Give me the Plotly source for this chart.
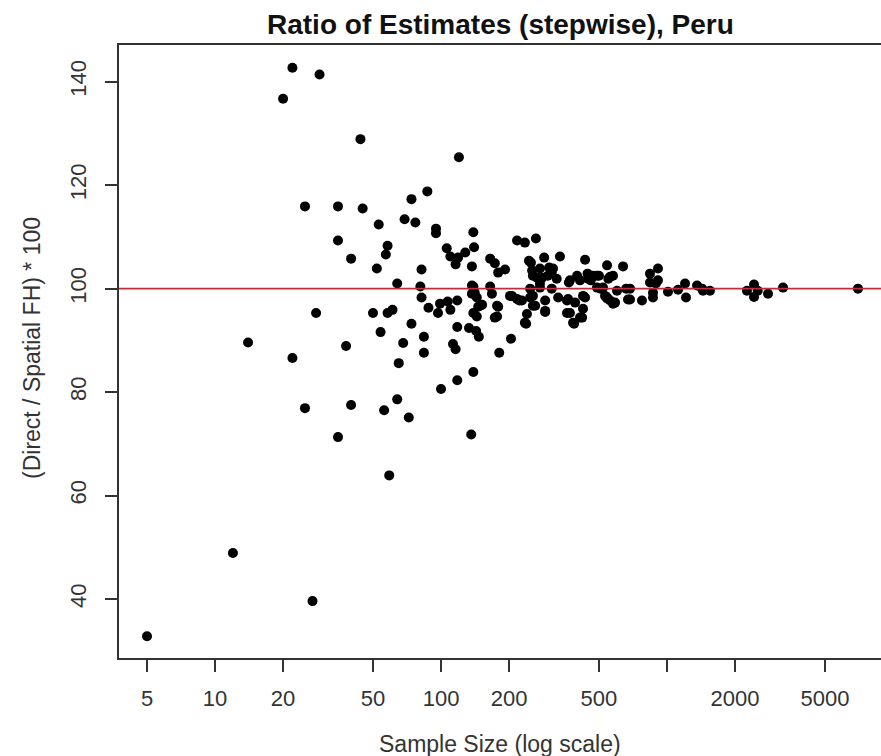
import plotly.graph_objects as go

sample_size = [
    5, 12, 14, 20, 22, 29, 22, 25, 28, 25, 27, 35, 45, 44, 53, 35, 58, 57, 40, 52,
    40, 35, 59, 38, 50, 58, 61, 54, 56, 64, 65, 64, 120, 87, 74, 69, 77, 95, 95, 139,
    106, 110, 128, 119, 116, 140, 137, 82, 165, 173, 179, 192, 217, 235, 263, 81, 82, 88, 99, 97,
    107, 118, 110, 139, 141, 144, 139, 146, 144, 152, 165, 168, 179, 177, 206, 217, 228, 248, 261, 240,
    238, 289, 250, 253, 266, 274, 286, 313, 297, 336, 372, 365, 361, 388, 421, 400, 434, 447, 425, 471,
    543, 560, 589, 639, 672, 601, 74, 68, 84, 84, 118, 133, 143, 147, 113, 116, 181, 204, 139, 118,
    100, 72, 136, 912, 841, 912, 841, 521, 543, 577, 686, 686, 775, 867, 867, 1010, 1119, 1202, 1214, 1358,
    1443, 1549, 2259, 2427, 2427, 2520, 2799, 3262, 7000, 500, 577, 460, 490, 532, 560, 893, 1430, 660, 508, 550,
    245, 274, 301, 255, 280, 309, 325, 445, 490, 368, 412, 248, 274, 309, 202, 222, 255, 289, 330, 361,
    392, 434, 543, 177, 255, 173, 289, 372, 425, 235, 384, 412, 137, 137, 149,
]
ratio = [
    32.8, 48.9, 89.6, 136.7, 142.7, 141.4, 86.6, 115.9, 95.3, 76.9, 39.6, 115.9, 115.5, 128.9, 112.4, 109.3, 108.3, 106.6, 105.8, 103.9,
    77.5, 71.3, 63.9, 88.9, 95.3, 95.3, 95.9, 91.6, 76.5, 78.6, 85.6, 101.0, 125.4, 118.8, 117.3, 113.4, 112.8, 111.6, 110.7, 110.9,
    107.8, 106.2, 107.0, 106.0, 104.7, 108.0, 104.3, 103.7, 105.8, 104.9, 103.1, 103.7, 109.3, 108.9, 109.7, 100.4, 98.3, 96.3, 97.1, 95.3,
    97.5, 97.7, 95.9, 100.4, 99.2, 98.3, 95.3, 96.5, 94.6, 96.9, 100.4, 99.0, 96.5, 94.6, 98.6, 98.0, 97.7, 98.3, 96.7, 95.1,
    93.2, 95.5, 105.0, 103.5, 102.1, 101.0, 106.0, 103.9, 102.5, 106.2, 101.6, 98.0, 95.3, 93.2, 94.4, 102.5, 105.6, 101.9, 98.6, 102.5,
    104.5, 102.3, 97.3, 104.3, 97.9, 99.6, 93.2, 89.5, 90.7, 87.6, 92.6, 92.4, 91.8, 90.7, 89.3, 88.3, 87.6, 90.3, 83.9, 82.3,
    80.6, 75.1, 71.8, 103.9, 102.9, 101.6, 101.2, 100.2, 98.3, 97.1, 100.0, 97.9, 97.7, 99.2, 98.3, 99.4, 99.8, 101.0, 98.3, 100.6,
    99.6, 99.6, 99.6, 100.8, 98.4, 99.6, 99.0, 100.2, 100.0, 102.5, 102.5, 101.6, 100.2, 98.6, 97.7, 101.0, 100.0, 100.0, 100.0, 101.9,
    105.4, 103.9, 104.1, 102.5, 102.1, 103.1, 101.9, 102.9, 102.5, 101.2, 101.6, 100.0, 100.2, 100.0, 98.6, 97.7, 98.6, 97.7, 98.3, 97.7,
    97.3, 98.3, 98.1, 96.7, 96.7, 94.4, 95.7, 95.3, 96.1, 93.4, 93.4, 94.4, 100.6, 99.0, 96.7,
]

x_tick_vals = [5, 10, 20, 50, 100, 200, 500, 1000, 2000, 5000]
x_tick_text = ["5", "10", "20", "50", "100", "200", "500", "", "2000", "5000"]
y_tick_vals = [40, 60, 80, 100, 120, 140]
reference_value = [100]

title_text = "Ratio of Estimates (stepwise), Peru"
x_title = "Sample Size (log scale)"
y_title = "(Direct / Spatial FH) * 100"

FONT = "Liberation Sans, Arial, sans-serif"

fig = go.Figure()
fig.add_trace(go.Scatter(
    x=sample_size, y=ratio, mode="markers",
    marker=dict(color="black", size=10, line=dict(width=0)),
    showlegend=False, hoverinfo="x+y",
))

fig.add_shape(type="line", xref="paper", yref="y", x0=0, x1=1,
              y0=reference_value[0], y1=reference_value[0],
              line=dict(color="#bd2f3a", width=1.6), layer="above")

fig.update_layout(
    width=881, height=756,
    margin=dict(l=119, r=0, t=45, b=98, autoexpand=False),
    paper_bgcolor="white", plot_bgcolor="white",
    font=dict(family=FONT, color="#222222", size=22),
    annotations=[
        dict(text="<b>" + title_text + "</b>", xref="paper", yref="paper",
             x=0.5, y=1.033, xanchor="center", yanchor="middle",
             showarrow=False, font=dict(size=28, color="#111111", family=FONT)),
        dict(text=x_title, xref="paper", yref="paper", x=0.5, y=-0.14,
             xanchor="center", yanchor="middle", showarrow=False,
             font=dict(size=23, color="#333333", family=FONT)),
        dict(text=y_title, xref="paper", yref="paper", x=-0.1142, y=0.5057,
             xanchor="center", yanchor="middle", textangle=-90, showarrow=False,
             font=dict(size=23, color="#333333", family=FONT)),
    ],
)

fig.update_xaxes(
    type="log", range=[0.575, 3.947],
    tickmode="array", tickvals=x_tick_vals, ticktext=x_tick_text,
    ticks="outside", ticklen=12, tickwidth=1.5, tickcolor="#333333",
    showline=True, linecolor="#333333", linewidth=1.5, mirror=True,
    showgrid=False, zeroline=False, ticklabelstandoff=8,
    tickfont=dict(size=22, color="#333333"),
)
fig.update_yaxes(
    range=[28.6, 147.1],
    tickmode="array", tickvals=y_tick_vals,
    ticks="outside", ticklen=12, tickwidth=1.5, tickcolor="#333333",
    showline=True, linecolor="#333333", linewidth=1.5, mirror=True,
    showgrid=False, zeroline=False, tickangle=-90, ticklabelstandoff=10,
    tickfont=dict(size=22, color="#333333"),
)

fig.write_html("out.html")
